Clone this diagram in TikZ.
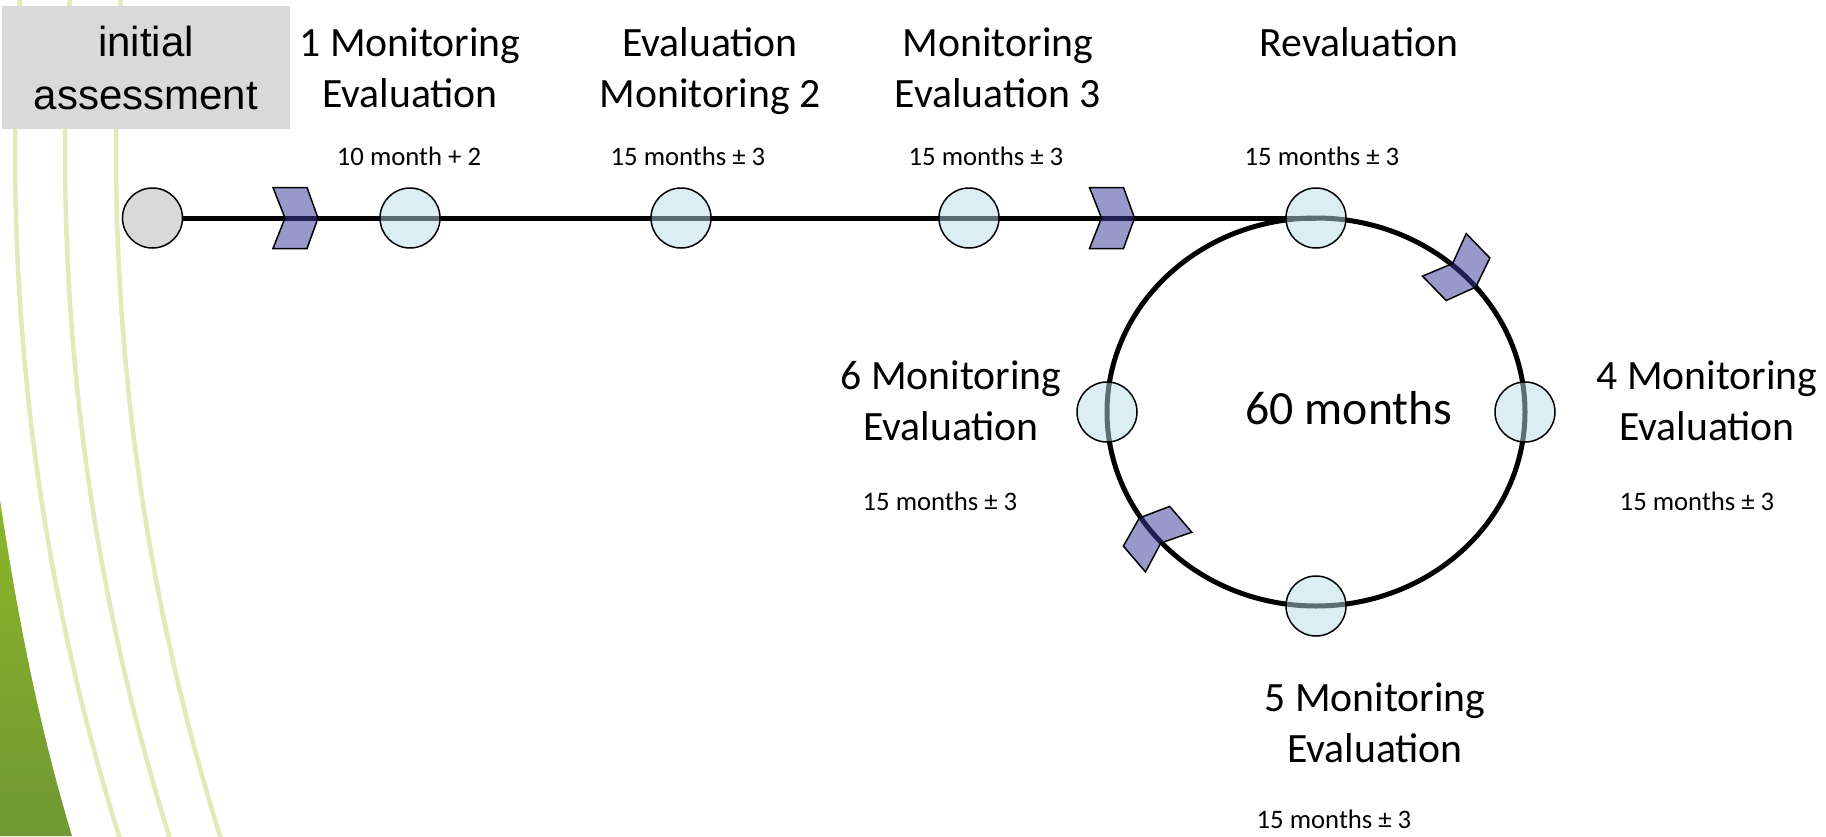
\documentclass[tikz,border=0pt]{standalone}
\usepackage{fontspec}
\setmainfont{Carlito}
\newfontfamily\arialf{Liberation Sans}
\usetikzlibrary{shapes.geometric,backgrounds}
\definecolor{ptfill}{RGB}{183,221,232}
\definecolor{chevfill}{RGB}{58,58,154}
\definecolor{boxgray}{RGB}{217,217,217}
\definecolor{arcgreen}{RGB}{224,234,186}
\definecolor{wedgetop}{RGB}{140,182,40}
\definecolor{wedgebot}{RGB}{112,152,52}
\tikzset{
  ptc/.style={circle, draw, line width=1.5pt, fill=ptfill, fill opacity=0.5, minimum size=60pt, inner sep=0pt},
  startc/.style={circle, draw, line width=1.5pt, fill=boxgray, minimum size=60pt, inner sep=0pt},
  bigtxt/.style={font=\fontsize{41.7}{51}\selectfont, align=center, inner sep=0pt, anchor=base},
  smalltxt/.style={font=\fontsize{26.7}{32}\selectfont, inner sep=0pt, anchor=base},
  chev/.pic={\draw[line width=1.5pt, fill=chevfill, fill opacity=0.52, line join=miter]
     (-22.5,30.5) -- (-10.5,0) -- (-22.5,-30.5) -- (11.5,-30.5) -- (22.5,0) -- (11.5,30.5) -- cycle;}
}
\begin{document}
\begin{tikzpicture}[x=1pt,y=-1pt]
\useasboundingbox (0,0) rectangle (1826,836);
% nodes on the path
\node[startc] (s0) at (152.5,218) {};
\node[ptc] (c1) at (410,218) {};
\node[ptc] (c2) at (681,218) {};
\node[ptc] (c3) at (969,218) {};
\node[ptc] (rev) at (1316,218) {};
\node[ptc] (c6) at (1107,412) {};
\node[ptc] (c4) at (1525,412) {};
\node[ptc] (c5) at (1316,606) {};
\begin{pgfonlayer}{background}
  \begin{scope}
    \clip (0,0) rectangle (1826,836);
    \foreach \dx in {0,50,101}
      \draw[arcgreen, line width=4.5pt] (2315+\dx,150) circle[radius=2300];
    \shade[top color=wedgetop, bottom color=wedgebot]
      (0,500) .. controls (18,620) and (40,730) .. (72,836) -- (0,836) -- cycle;
  \end{scope}
  \node[ellipse, draw, line width=5pt, minimum width=418pt, minimum height=388pt, inner sep=0pt] (loop) at (1316,412) {};
  \draw[line width=5pt] (s0) -- (rev.center);
\end{pgfonlayer}
% chevrons
\pic at (295.5,218) {chev};
\pic at (1112,218) {chev};
\pic[rotate=-45.8] at (1460,271) {chev};
\pic[rotate=130.6] at (1154,535) {chev};
% initial box
\node[fill=boxgray, minimum width=288pt, minimum height=123pt, inner sep=0pt,
      font=\arialf\fontsize{42}{53}\selectfont, align=center] (init) at (146,67.5) {initial\\assessment};
% labels (base anchor = baseline of the last line)
\node[bigtxt] (t1) at (410,107) {1 Monitoring\\Evaluation};
\node[bigtxt] (t2) at (710,107) {Evaluation\\Monitoring 2};
\node[bigtxt] (t3) at (998,107) {Monitoring\\Evaluation 3};
\node[bigtxt] (trev) at (1359,56) {Revaluation};
\node[smalltxt] (m1) at (409,165) {10 month + 2};
\node[smalltxt] (m2) at (688,165) {15 months ± 3};
\node[smalltxt] (m3) at (986,165) {15 months ± 3};
\node[smalltxt] (mrev) at (1322,165) {15 months ± 3};
\node[bigtxt] (t6) at (951,440) {6 Monitoring\\Evaluation};
\node[smalltxt] (m6) at (940,510) {15 months ± 3};
\node[bigtxt] (t4) at (1707,440) {4 Monitoring\\Evaluation};
\node[smalltxt] (m4) at (1697,510) {15 months ± 3};
\node[inner sep=0pt, anchor=base, font=\fontsize{47.7}{57}\selectfont] (sixty) at (1349,424) {60 months};
\node[bigtxt] (t5) at (1375,762) {5 Monitoring\\Evaluation};
\node[smalltxt] (m5) at (1334,828) {15 months ± 3};
\end{tikzpicture}
\end{document}
